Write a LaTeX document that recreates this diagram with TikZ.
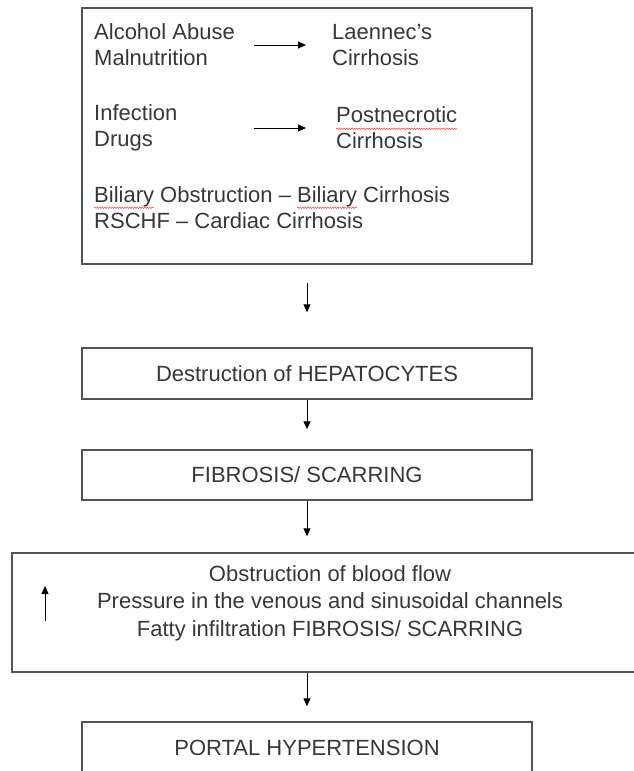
\documentclass[tikz,border=0pt]{standalone}
\usepackage{fontspec}
\setmainfont{Liberation Sans}
\usetikzlibrary{positioning, arrows.meta, decorations.pathmorphing}
\definecolor{boxGray}{RGB}{85,85,85}
\definecolor{txtGray}{RGB}{55,55,55}

\begin{document}
\begin{tikzpicture}[x=1pt, y=-1pt,
    font=\fontsize{22}{26}\selectfont, text=txtGray,
    box/.style={draw=boxGray, line width=1.4pt, align=center, inner sep=0pt},
    txt/.style={anchor=west, align=flush left, inner sep=0pt},
    arr/.style={-{Triangle[length=8pt, width=7pt]}, line width=1pt, black},
    spell/.style={draw=red!75, line width=0.5pt, decorate,
                  decoration={snake, amplitude=0.8pt, segment length=2.5pt}},
  ]
    \useasboundingbox (0,0) rectangle (634,771);
    \node[box, minimum width=450pt, minimum height=256pt] (causes) at (307,136) {};
    \node[txt, text width=150pt] (alcohol) at (94,45) {Alcohol Abuse\\Malnutrition};
    \node[txt] (laennec) at (332,45) {Laennec’s\\Cirrhosis};
    \node[txt, text width=150pt] (infection) at (94,128) {Infection\\Drugs};
    \node[txt] (postnec) at (336,128) {Postnecrotic\\Cirrhosis};
    \node[txt] (biliary) at (94,208) {Biliary Obstruction – Biliary Cirrhosis\\RSCHF – Cardiac Cirrhosis};
    \draw[arr, shorten <=10pt, shorten >=26pt] (alcohol.east) -- (alcohol.east -| laennec.west);
    \draw[arr, shorten <=10pt, shorten >=30pt] (infection.east) -- (infection.east -| postnec.west);
    \draw[spell] (postnec.north west) ++(0,22) -- ++(121,0);
    \draw[spell] (biliary.north west) ++(0,21) -- ++(60,0);
    \draw[spell] (biliary.north west) ++(203,21) -- ++(60,0);

    \node[box, minimum width=450pt, minimum height=51pt] (destr) at (307,373.5) {Destruction of HEPATOCYTES};
    \node[box, minimum width=450pt, minimum height=50pt] (fibro) at (307,475) {FIBROSIS/ SCARRING};
    \node[box, minimum width=660pt, minimum height=119pt] (obstr) at (342,612.5) {};
    \node[align=center, inner sep=0pt, font=\fontsize{22}{27.5}\selectfont] (obstrTxt) at (330,603)
      {Obstruction of blood flow\\Pressure in the venous and sinusoidal channels\\Fatty infiltration FIBROSIS/ SCARRING};
    \coordinate (upFrom) at (45,621);
    \coordinate (upTo) at (45,586);
    \node[box, minimum width=450pt, minimum height=52pt] (portal) at (307,748) {PORTAL HYPERTENSION};

    \draw[arr, shorten <=18pt, shorten >=35pt] (causes) -- (destr);
    \draw[arr, shorten >=20pt] (destr) -- (fibro);
    \draw[arr, shorten >=16pt] (fibro.south) -- (fibro.south |- obstr.north);
    \draw[arr] (upFrom) -- (upTo);
    \draw[arr, shorten >=15pt] (obstr.south -| portal.north) -- (portal.north);
  \end{tikzpicture}
\end{document}
